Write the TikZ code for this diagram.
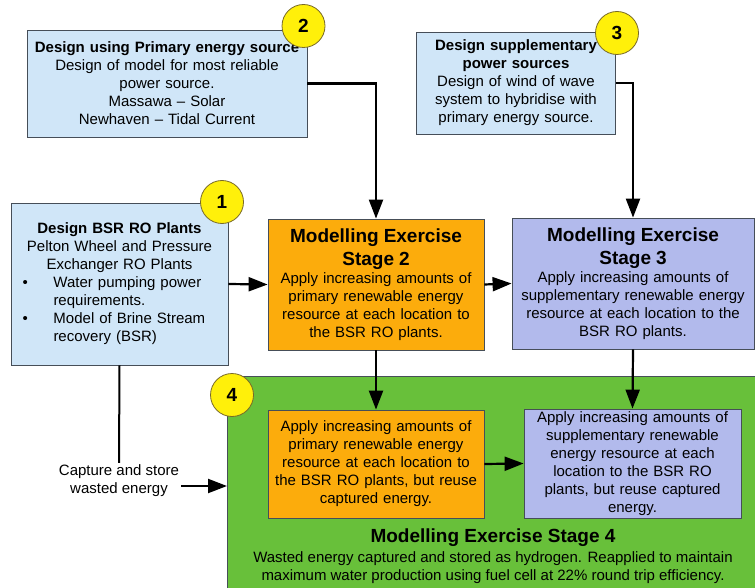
\documentclass[tikz,border=0pt]{standalone}
\usepackage{fontspec}
\setmainfont{Liberation Sans}
\usetikzlibrary{arrows.meta}
\definecolor{designblue}{RGB}{208,230,248}
\definecolor{stageorange}{RGB}{252,172,12}
\definecolor{stagelilac}{RGB}{178,186,236}
\definecolor{stagegreen}{RGB}{104,192,58}
\definecolor{markyellow}{RGB}{255,240,10}
\definecolor{markedge}{RGB}{120,105,40}
\definecolor{edgegray}{RGB}{70,78,88}
\newcommand{\bsritem}[1]{\makebox[204pt][l]{\hspace*{5pt}\makebox[31pt][l]{\textbullet}#1}}
\newcommand{\bsrcont}[1]{\makebox[204pt][l]{\hspace*{36pt}#1}}
\newcommand{\stagehead}[1]{{\fontsize{19}{22.5}\selectfont\bfseries #1\par}}
\tikzset{info/.style = {draw=edgegray, fill=designblue, line width=0.8pt, rectangle, align=center, inner xsep=2pt, inner ysep=0pt, font=\fontsize{15}{18}\selectfont},
         stage/.style = {info, fill=stageorange},
         lilac/.style = {info, fill=stagelilac},
         greenbox/.style = {draw=edgegray, fill=stagegreen, line width=0.8pt, rectangle},
         marker/.style = {draw=markedge, fill=markyellow, line width=0.8pt, circle, minimum size=43pt, inner sep=0pt, font=\fontsize{19}{22}\selectfont\bfseries},
         plain/.style = {align=center, inner sep=2pt, font=\fontsize{15}{18}\selectfont},
         link/.style = {line width=2pt},
         arr/.style = {line width=2.2pt, -{Triangle[length=19pt,width=14pt]}}}

\begin{document}
\begin{tikzpicture}[x=1pt,y=-1pt]
        \useasboundingbox (0,0) rectangle (755,588);

        \node[greenbox, anchor=north west, minimum width=540pt, minimum height=222pt] (stagefour) at (227,376) {};

        \node[info, minimum width=280pt, minimum height=107pt, text width=274pt] (primary) at (167,83.5)
            {\textbf{Design using Primary energy source}\\Design of model for most reliable\\power source.\\Massawa \textendash{} Solar\\Newhaven \textendash{} Tidal Current};
        \node[info, minimum width=199pt, minimum height=102pt, text width=193pt] (supplement) at (516,83)
            {\textbf{Design supplementary\\power sources}\\Design of wind of wave\\system to hybridise with\\primary energy source.};
        \node[info, minimum width=217pt, minimum height=162pt, text width=204pt] (bsr) at (119.5,284)
            {\textbf{Design BSR RO Plants}\\Pelton Wheel and Pressure\\Exchanger RO Plants\\
             \bsritem{Water pumping power}\\\bsrcont{requirements.}\\
             \bsritem{Model of Brine Stream}\\\bsrcont{recovery (BSR)}};

        \node[stage, minimum width=216pt, minimum height=131pt, text width=210pt] (stagetwo) at (376,284.5)
            {\stagehead{Modelling Exercise\\Stage 2}Apply increasing amounts of\\primary renewable energy\\resource at each location to\\the BSR RO plants.};
        \node[lilac, minimum width=242pt, minimum height=131pt, text width=236pt] (stagethree) at (633,283.5)
            {\stagehead{Modelling Exercise\\Stage 3}Apply increasing amounts of\\supplementary renewable energy\\resource at each location to the\\BSR RO plants.};

        \node[stage, minimum width=216pt, minimum height=108pt, text width=210pt] (fourprimary) at (376,464)
            {Apply increasing amounts of\\primary renewable energy\\resource at each location to\\the BSR RO plants, but reuse\\captured energy.};
        \node[lilac, minimum width=217pt, minimum height=109pt, text width=211pt] (foursupplement) at (632.5,463.5)
            {Apply increasing amounts of\\supplementary renewable\\energy resource at each\\location to the BSR RO\\plants, but reuse captured\\energy.};

        \node[plain, font=\fontsize{19}{22.5}\selectfont\bfseries] (fourtitle) at (493,538) {Modelling Exercise Stage 4};
        \node[plain] (fourtext) at (493,567.5)
            {Wasted energy captured and stored as hydrogen. Reapplied to maintain\\maximum water production using fuel cell at 22\% round trip efficiency.};

        \node[plain] (capture) at (119,481) {Capture and store\\wasted energy};
        \coordinate (wastetail) at ([yshift=-5pt]capture.east);

        \draw[arr] (primary.east) -| (stagetwo.north);
        \draw[arr] (supplement.east) -| (stagethree.north);
        \draw[arr] (bsr.east) -- (stagetwo.west);
        \draw[arr] (stagetwo.east) -- (stagethree.west);
        \draw[arr] (stagetwo.south) -- (fourprimary.north);
        \draw[arr] (stagethree.south) -- (foursupplement.north);
        \draw[arr] (fourprimary.east) -- (foursupplement.west);
        \draw[link] (bsr.south) -- (capture.north);
        \draw[arr] (wastetail) -- (wastetail -| stagefour.west);

        \node[marker] (markone) at (222,202) {1};
        \node[marker] (marktwo) at (303.5,26) {2};
        \node[marker] (markthree) at (617,33) {3};
        \node[marker] (markfour) at (232,395) {4};
    \end{tikzpicture}
\end{document}
